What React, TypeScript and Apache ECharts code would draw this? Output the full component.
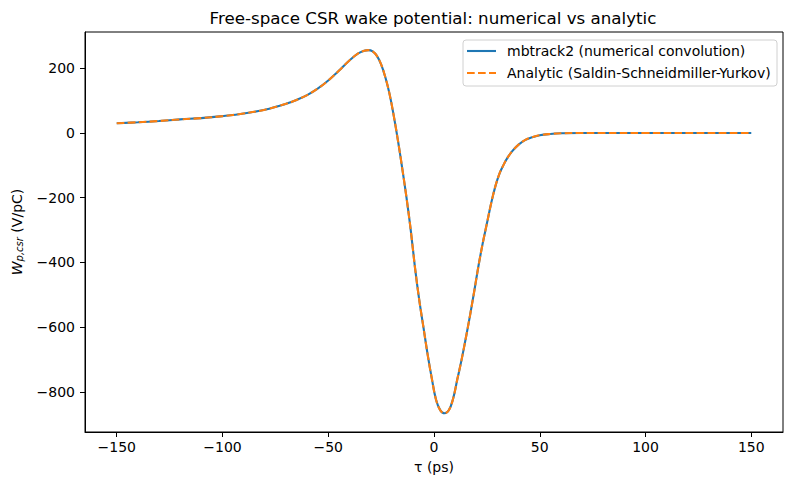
import React, { useEffect, useRef } from "react";
import * as echarts from "echarts";

const tau = [
  -150, -140, -130, -120, -110, -100, -90, -80, -70, -65, -60, -55, -50, -45, -40, -36, -33, -31, -29, -27,
  -25, -23, -21, -19, -17, -15, -13, -11, -9, -7, -5, -3, -1, 1, 3, 5, 7, 9, 11, 13, 15, 17, 19, 21, 23,
  25, 27, 29, 31, 33, 35, 37, 40, 43, 46, 50, 55, 60, 70, 80, 100, 120, 150,
];
const wakeNumerical = [
  30, 33, 37, 42, 46, 52, 60, 72, 90, 102, 117, 137, 162, 192, 224, 245, 254, 256, 252, 238,
  212, 172, 120, 52, -25, -110, -200, -300, -415, -515, -600, -685, -760, -825, -857, -866, -857, -822, -762, -702, -635, -565, -490, -412, -342,
  -280, -218, -165, -125, -97, -74, -56, -36, -22, -14, -7, -3, -1, 0, 0, 0, 0, 0,
];
const wakeAnalytic = [
  30, 33, 37, 42, 46, 52, 60, 72, 90, 102, 117, 137, 162, 192, 224, 245, 254, 256, 252, 238,
  212, 172, 120, 52, -25, -110, -200, -300, -415, -515, -600, -685, -760, -825, -857, -866, -857, -822, -762, -702, -635, -565, -490, -412, -342,
  -280, -218, -165, -125, -97, -74, -56, -36, -22, -14, -7, -3, -1, 0, 0, 0, 0, 0,
];
const xTicks = [-150, -100, -50, 0, 50, 100, 150];
const yTicks = [-800, -600, -400, -200, 0, 200];
const seriesNames = ["mbtrack2 (numerical convolution)", "Analytic (Saldin-Schneidmiller-Yurkov)"];
const seriesColors = ["#1f77b4", "#ff7f0e"];

const FONT = "'DejaVu Sans', sans-serif";
const minus = (v: number) => String(v).replace("-", "\u2212");

export default function App() {
  const ref = useRef<HTMLDivElement>(null);
  useEffect(() => {
    if (!ref.current) return;
    const chart = echarts.init(ref.current, undefined, { renderer: "svg" });
    const gridLeft = 83;
    const gridRight = 7;
    const gridTop = 32;
    const gridBottom = 58;
    const legX = 463;
    const legY = 40;
    const legW = 314;
    const legH = 46;
    const legendEls: any[] = [
      {
        type: "rect",
        shape: { x: legX, y: legY, width: legW, height: legH, r: 3 },
        style: { fill: "rgba(255,255,255,0.8)", stroke: "#d0d0d0", lineWidth: 1 },
        z: 10,
      },
    ];
    seriesNames.forEach((name, i) => {
      const cy = 51 + i * 22;
      legendEls.push({
        type: "line",
        shape: { x1: 467, y1: cy, x2: 496, y2: cy },
        style: {
          stroke: seriesColors[i],
          lineWidth: 2.1,
          lineDash: i === 1 ? [7.7, 3.3] : null,
        },
        z: 11,
      });
      legendEls.push({
        type: "text",
        x: 507,
        y: cy,
        style: {
          text: name,
          font: `14px ${FONT}`,
          fill: "#000",
          textAlign: "left",
          textVerticalAlign: "middle",
        },
        z: 11,
      });
    });
    chart.setOption({
      animation: false,
      backgroundColor: "#fff",
      textStyle: { fontFamily: FONT },
      graphic: [
        {
          type: "text",
          x: (gridLeft + 790 - gridRight) / 2,
          y: 18,
          style: {
            text: "Free-space CSR wake potential: numerical vs analytic",
            font: `16.7px ${FONT}`,
            fill: "#000",
            textAlign: "center",
            textVerticalAlign: "middle",
          },
        },
        ...legendEls,
      ],
      grid: {
        left: gridLeft,
        right: gridRight,
        top: gridTop,
        bottom: gridBottom,
        show: true,
        borderColor: "#000",
        borderWidth: 1,
        backgroundColor: "transparent",
      },
      xAxis: {
        type: "value",
        min: -165,
        max: 165,
        name: "\u03c4 (ps)",
        nameLocation: "middle",
        nameGap: 28,
        nameTextStyle: { fontFamily: FONT, fontSize: 14, color: "#000" },
        axisLine: { show: true, onZero: false, lineStyle: { color: "#000", width: 1 } },
        axisTick: { show: true, length: 5, customValues: xTicks, lineStyle: { color: "#000" } },
        axisLabel: {
          customValues: xTicks,
          margin: 8,
          fontFamily: FONT,
          fontSize: 14,
          color: "#000",
          formatter: (v: number) => minus(v),
        },
        splitLine: { show: false },
      },
      yAxis: {
        type: "value",
        min: -924,
        max: 312,
        name: "{w|W}{s|p,csr} {n|(V/pC)}",
        nameLocation: "middle",
        nameRotate: 90,
        nameGap: 61,
        nameTextStyle: {
          fontFamily: FONT,
          fontSize: 14,
          color: "#000",
          rich: {
            w: { fontFamily: FONT, fontSize: 14, fontStyle: "italic", color: "#000", lineHeight: 18, verticalAlign: "bottom" },
            s: { fontFamily: FONT, fontSize: 10, fontStyle: "italic", color: "#000", verticalAlign: "bottom", lineHeight: 18, padding: [5, 0, 0, 0] },
            n: { fontFamily: FONT, fontSize: 14, color: "#000", lineHeight: 18, verticalAlign: "bottom" },
          },
        },
        axisLine: { show: true, onZero: false, lineStyle: { color: "#000", width: 1 } },
        axisTick: { show: true, length: 5, customValues: yTicks, lineStyle: { color: "#000" } },
        axisLabel: {
          customValues: yTicks,
          margin: 10,
          fontFamily: FONT,
          fontSize: 14,
          color: "#000",
          formatter: (v: number) => minus(v),
        },
        splitLine: { show: false },
      },
      series: [
        {
          name: seriesNames[0],
          type: "line",
          data: tau.map((t, i) => [t, wakeNumerical[i]]),
          showSymbol: false,
          symbol: "none",
          smooth: 0.4,
          lineStyle: { color: seriesColors[0], width: 2.1 },
          itemStyle: { color: seriesColors[0] },
        },
        {
          name: seriesNames[1],
          type: "line",
          data: tau.map((t, i) => [t, wakeAnalytic[i]]),
          showSymbol: false,
          symbol: "none",
          smooth: 0.4,
          lineStyle: { color: seriesColors[1], width: 2.1, type: [7.7, 3.3] },
          itemStyle: { color: seriesColors[1] },
        },
      ],
    });
    return () => chart.dispose();
  }, []);
  return (
    <div
      ref={ref}
      style={{ position: "absolute", left: 0, top: 0, width: 790, height: 490 }}
    />
  );
}
